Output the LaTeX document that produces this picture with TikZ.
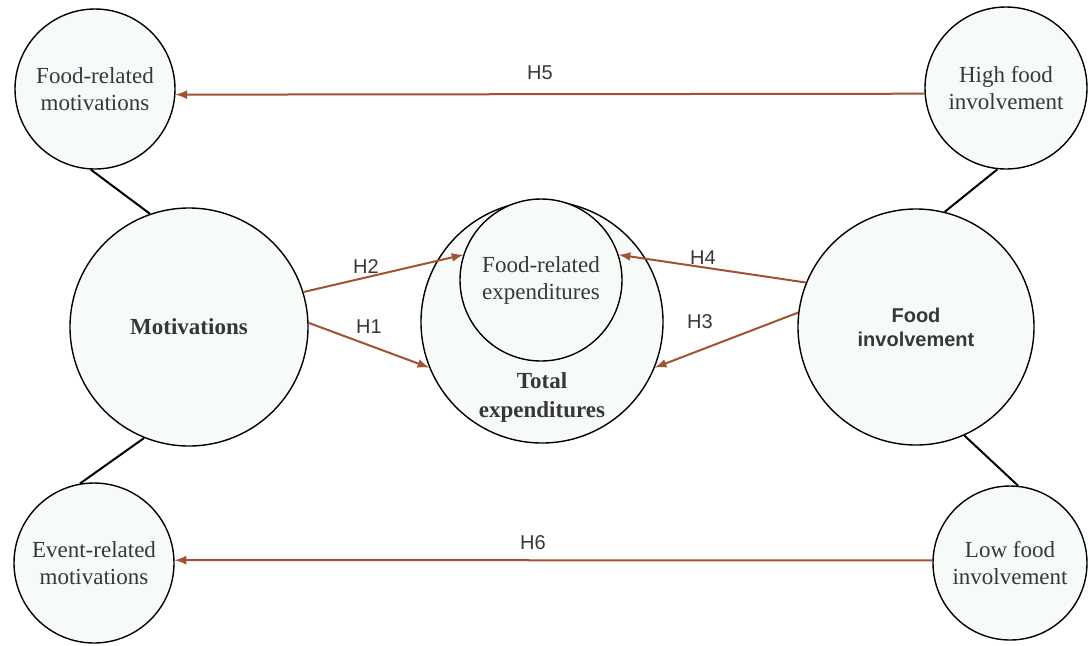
\documentclass[tikz,border=0pt]{standalone}
\usepackage{fontspec}
\setmainfont{Liberation Serif}
\setsansfont{Liberation Sans}
\usepackage{xcolor}
\usepackage{tikz}
\usetikzlibrary{arrows}
\definecolor{arrowbrown}{RGB}{160,82,50}
\definecolor{circfill}{RGB}{247,251,247}
\definecolor{labgray}{RGB}{55,55,55}

\begin{document}
\begin{tikzpicture}[x=0.5pt,y=-0.5pt,
	bubble/.style={circle,draw=black,line width=0.7pt,fill=circfill,inner sep=0pt,align=center,text=labgray,font=\fontsize{11.5}{13.5}\selectfont},
	hyp/.style={-latex,line width=1pt,draw=arrowbrown},
	link/.style={line width=1pt,black},
	hlab/.style={font=\sffamily\fontsize{10}{12}\selectfont,text=labgray}]
	\useasboundingbox (0,0) rectangle (1088,645);
	% outer ring of circles
	\node[bubble,minimum size=80pt] (fmot) at (95,89) {Food-related\\motivations};
	\node[bubble,minimum size=81pt] (hfi) at (1006,88) {High food\\involvement};
	\node[bubble,minimum size=80pt] (emot) at (94,563) {Event-related\\motivations};
	\node[bubble,minimum size=77pt] (lfi) at (1010,563) {Low food\\involvement};
	% main constructs
	\node[bubble,minimum size=119pt,font=\bfseries\fontsize{11.5}{13.5}\selectfont] (mot) at (189,327) {Motivations};
	\node[bubble,minimum size=118pt,font=\sffamily\bfseries\fontsize{10}{12}\selectfont] (finv) at (916,327) {Food\\involvement};
	\node[bubble,minimum size=121pt] (texp) at (542,322) {};
	\node[bubble,minimum size=81pt] (fexp) at (541,280) {Food-related\\expenditures};
	\node[align=center,text=labgray,font=\bfseries\fontsize{11.5}{14.5}\selectfont] (tlab) at (542,397) {Total\\expenditures};
	% links
	\draw[link] (fmot.-93) -- (mot.109);
	\draw[link] (mot.248) -- (emot.100);
	\draw[link] (hfi.264) -- (finv.76);
	\draw[link] (finv.-66) -- (lfi.84);
	% hypotheses
	\draw[hyp] (mot.17) -- (fexp.162);
	\draw[hyp] (mot.2) -- (texp.202);
	\draw[hyp] (finv.158) -- (fexp.18);
	\draw[hyp] (finv.173) -- (texp.-22);
	\draw[hyp] (hfi.184) -- (fmot.-4);
	\draw[hyp] (lfi.178) -- (emot.2);
	\node[hlab] (h1) at (369,327) {H1};
	\node[hlab] (h2) at (366,267) {H2};
	\node[hlab] (h3) at (700,322) {H3};
	\node[hlab] (h4) at (703,258) {H4};
	\node[hlab] (h5) at (540,73) {H5};
	\node[hlab] (h6) at (533,543) {H6};
\end{tikzpicture}
\end{document}
